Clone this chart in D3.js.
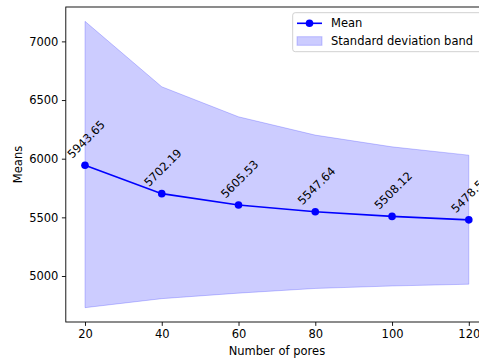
<!DOCTYPE html>
<html>
<head>
<meta charset="utf-8">
<script src="https://cdn.jsdelivr.net/npm/d3@7"></script>
<style>
  html, body { margin: 0; padding: 0; background: #fff; overflow: hidden; }
  svg { display: block; font-family: "DejaVu Sans", sans-serif; }
</style>
</head>
<body>
<svg id="chart" width="479" height="360"></svg>
<script>
// ---- data ----
const pores = [20, 40, 60, 80, 100, 120];
const means = [5943.65, 5702.19, 5605.53, 5547.64, 5508.12, 5478.53];
const upperBand = [7171, 6613, 6357, 6201, 6101, 6030];
const lowerBand = [4730, 4807, 4854, 4894, 4915, 4930];
const xTicks = [20, 40, 60, 80, 100, 120];
const yTicks = [5000, 5500, 6000, 6500, 7000];
const xLabel = "Number of pores";
const yLabel = "Means";
const legendLabels = ["Mean", "Standard deviation band"];

(function () {
// ---- layout ----
const mLeft = 65.8, mRight = 488, mTop = 7, mBottom = 322;
const fs = 11.5;
const svg = d3.select("#chart");

const xmin = d3.min(pores), xmax = d3.max(pores);
const xm = (xmax - xmin) * 0.05;
const x = d3.scaleLinear().domain([xmin - xm, xmax + xm]).range([mLeft, mRight]);
const ymin = d3.min(lowerBand), ymax = d3.max(upperBand);
const ym = (ymax - ymin) * 0.05;
const y = d3.scaleLinear().domain([ymin - ym, ymax + ym]).range([mBottom, mTop]);

const data = pores.map((p, i) => ({ p, m: means[i], u: upperBand[i], l: lowerBand[i] }));

// band
svg.append("path")
  .datum(data)
  .attr("d", d3.area().x(d => x(d.p)).y0(d => y(d.l)).y1(d => y(d.u)))
  .attr("fill", "#0000ff").attr("fill-opacity", 0.2)
  .attr("stroke", "#0000ff").attr("stroke-opacity", 0.2).attr("stroke-width", 1);

// mean line
svg.append("path")
  .datum(data)
  .attr("d", d3.line().x(d => x(d.p)).y(d => y(d.m)))
  .attr("fill", "none").attr("stroke", "#0000ff").attr("stroke-width", 1.6);

svg.selectAll("circle.pt").data(data).enter().append("circle")
  .attr("class", "pt")
  .attr("cx", d => x(d.p)).attr("cy", d => y(d.m)).attr("r", 3.8)
  .attr("fill", "#0000ff");

// annotations (rotated 45°)
const hInk = 0.73 * fs;
svg.selectAll("text.ann").data(data).enter().append("text")
  .attr("class", "ann")
  .attr("font-size", fs)
  .attr("fill", "#000")
  .text(d => d.m.toFixed(2))
  .each(function (d) {
    const L = this.getComputedTextLength();
    const bx = x(d.p) + 1 - 0.3536 * (L - hInk);
    const by = y(d.m) - 6.3;
    d3.select(this).attr("transform", `translate(${bx},${by}) rotate(-45)`);
  });

// axes
const xAxis = d3.axisBottom(x).tickValues(xTicks).tickSize(3.9).tickPadding(3.5).tickFormat(d3.format("d"));
const gx = svg.append("g").attr("transform", `translate(0,${mBottom})`).call(xAxis);
const yAxis = d3.axisLeft(y).tickValues(yTicks).tickSize(3.9).tickPadding(3.5).tickFormat(d3.format("d"));
const gy = svg.append("g").attr("transform", `translate(${mLeft},0)`).call(yAxis);
[gx, gy].forEach(g => {
  g.select(".domain").remove();
  g.selectAll("text").attr("font-size", fs).attr("font-family", "DejaVu Sans").attr("fill", "#000");
  g.selectAll("line").attr("stroke", "#000").attr("stroke-width", 0.9);
});

// spines
svg.append("rect")
  .attr("x", mLeft).attr("y", mTop).attr("width", mRight - mLeft).attr("height", mBottom - mTop)
  .attr("fill", "none").attr("stroke", "#000").attr("stroke-width", 0.9);

// axis labels
svg.append("text").attr("x", (mLeft + mRight) / 2).attr("y", 354.5)
  .attr("text-anchor", "middle").attr("font-size", fs).text(xLabel);
svg.append("text").attr("transform", `translate(22,${(mTop + mBottom) / 2}) rotate(-90)`)
  .attr("text-anchor", "middle").attr("font-size", fs).text(yLabel);

// legend
const lg = svg.append("g");
lg.append("rect").attr("x", 292.7).attr("y", 12.7).attr("width", 189).attr("height", 39)
  .attr("rx", 2.5).attr("fill", "#fff").attr("fill-opacity", 0.8)
  .attr("stroke", "#cccccc").attr("stroke-width", 0.9);
lg.append("line").attr("x1", 297).attr("x2", 322).attr("y1", 23.3).attr("y2", 23.3)
  .attr("stroke", "#0000ff").attr("stroke-width", 1.6);
lg.append("circle").attr("cx", 309.5).attr("cy", 23.3).attr("r", 3.8).attr("fill", "#0000ff");
lg.append("rect").attr("x", 297).attr("y", 36.7).attr("width", 25).attr("height", 8.6)
  .attr("fill", "#0000ff").attr("fill-opacity", 0.2)
  .attr("stroke", "#0000ff").attr("stroke-opacity", 0.2).attr("stroke-width", 1);
lg.selectAll("text.lt").data(legendLabels).enter().append("text")
  .attr("class", "lt")
  .attr("x", 331).attr("y", (d, i) => 23.3 + i * 17.3).attr("dy", "0.35em")
  .attr("font-size", fs).attr("fill", "#000").text(d => d);
})();
</script>
</body>
</html>
